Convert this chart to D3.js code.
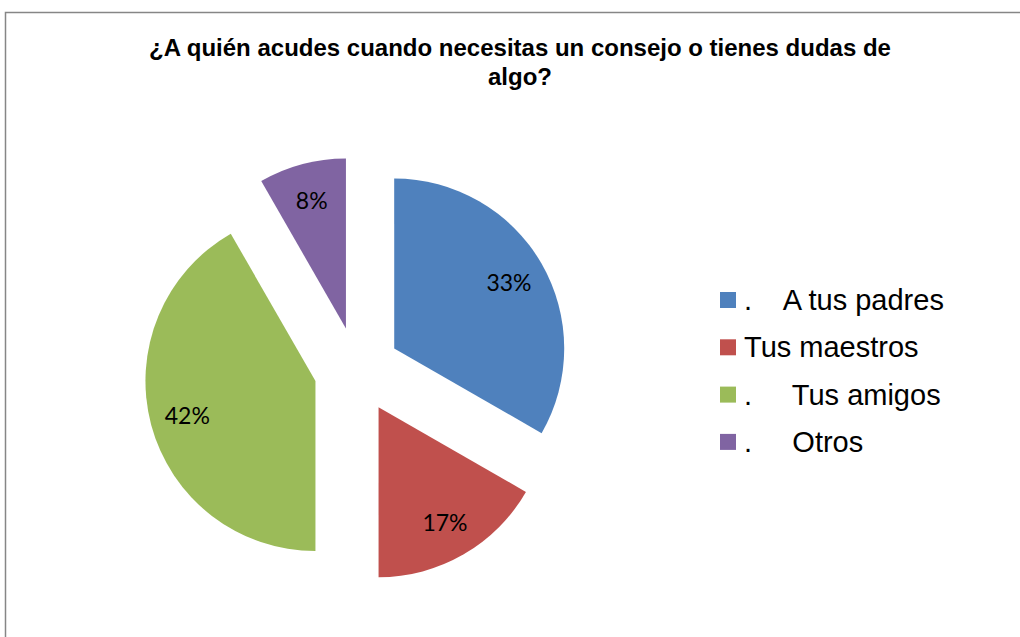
<!DOCTYPE html>
<html>
<head>
<meta charset="utf-8">
<script src="https://cdn.jsdelivr.net/npm/d3@7"></script>
<style>
  body { margin: 0; background: #fff; }
  svg { display: block; }
</style>
</head>
<body>
<svg width="1020" height="637"></svg>
<script>
// datos
var categorias = [".    A tus padres", "Tus maestros", ".     Tus amigos", ".     Otros"];
var valores = [33.3, 16.7, 41.7, 8.3];
var colores = ["#4F81BD", "#C0504D", "#9BBB59", "#8064A2"];
var titulo = ["¿A quién acudes cuando necesitas un consejo o tienes dudas de", "algo?"];

var width = 1020;
var height = 637;
var cx = 357, cy = 370;
var radio = 170;
var separacion = 43;

var svg = d3.select('svg');

// marco del area del grafico
svg.append('rect')
  .attr('x', 5.5)
  .attr('y', 12.5)
  .attr('width', 1100)
  .attr('height', 1000)
  .style('fill', 'none')
  .style('stroke', '#868686')
  .style('stroke-width', 1.5);

svg.append('g')
  .selectAll('text')
  .data(titulo)
  .enter()
  .append('text')
  .attr('x', 520)
  .attr('y', (d, i) => 56 + i * 29)
  .attr('text-anchor', 'middle')
  .style('font-family', '"Liberation Sans", Arial, sans-serif')
  .style('font-weight', 'bold')
  .style('font-size', '24px')
  .text(d => d);

var pie = d3.pie().sort(null).value(d => d);
var arc = d3.arc().innerRadius(0).outerRadius(radio);
var arcos = pie(valores);

function desplaza(d, dist) {
  var m = (d.startAngle + d.endAngle) / 2;
  return [Math.sin(m) * dist, -Math.cos(m) * dist];
}

var g = svg.append('g').attr('transform', 'translate(' + cx + ',' + cy + ')');

g.selectAll('path')
  .data(arcos)
  .enter()
  .append('path')
  .attr('d', arc)
  .attr('transform', d => 'translate(' + desplaza(d, separacion) + ')')
  .style('fill', (d, i) => colores[i]);

g.selectAll('text.etiqueta')
  .data(arcos)
  .enter()
  .append('text')
  .attr('class', 'etiqueta')
  .attr('x', d => desplaza(d, separacion + radio * 0.78)[0])
  .attr('y', d => desplaza(d, separacion + radio * 0.78)[1])
  .attr('text-anchor', 'middle')
  .attr('dominant-baseline', 'central')
  .style('font-family', 'Lato, "Open Sans", sans-serif')
  .style('font-size', '23px')
  .style('fill', '#000')
  .text(d => d3.format('.0f')(d.value) + '%');

// leyenda
var leyenda = svg.append('g').attr('transform', 'translate(720,300)');

var filas = leyenda.selectAll('g')
  .data(categorias)
  .enter()
  .append('g')
  .attr('transform', (d, i) => 'translate(0,' + i * 47.3 + ')');

filas.append('rect')
  .attr('x', 0)
  .attr('y', -8)
  .attr('width', 16)
  .attr('height', 16)
  .style('fill', (d, i) => colores[i]);

filas.append('text')
  .attr('x', 24)
  .attr('y', 10)
  .style('white-space', 'pre')
  .style('font-family', '"Liberation Sans", Arial, sans-serif')
  .style('font-size', '29px')
  .text(d => d);
</script>
</body>
</html>
